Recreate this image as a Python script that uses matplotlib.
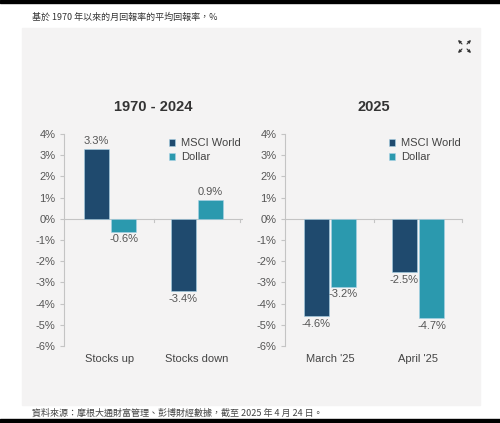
import matplotlib
matplotlib.use('Agg')
from matplotlib import pyplot as plt
from matplotlib.patches import Rectangle, FancyArrowPatch
import numpy as np

plt.rcParams['font.family'] = ['Liberation Sans', 'DejaVu Sans']

# data
panel_titles = ['1970 - 2024', '2025']
categories = [['Stocks up', 'Stocks down'], ["March '25", "April '25"]]
msci_world = [[3.3, -3.4], [-4.6, -2.5]]
dollar = [[-0.6, 0.9], [-3.2, -4.7]]
series_names = ['MSCI World', 'Dollar']
y_ticks = [4, 3, 2, 1, 0, -1, -2, -3, -4, -5, -6]

navy = '#1f4a6e'
teal = '#2b99ae'
panel_bg = '#f4f3f3'
grey_txt = '#555555'
line_col = '#c4c4c4'

fig = plt.figure(figsize=(5, 4.23), dpi=100)
fig.patch.set_facecolor('white')

W, H = 500, 423
def fx(px):
    return px / W
def fy(py):
    return 1 - py / H

# black bars top and bottom + grey panel
fig.add_artist(Rectangle((0, fy(3)), 1, 3 / H, transform=fig.transFigure, color='black', zorder=0))
fig.add_artist(Rectangle((0, 0), 1, 4 / H, transform=fig.transFigure, color='black', zorder=0))
fig.add_artist(Rectangle((fx(22), fy(405)), fx(480 - 22), (405 - 28) / H,
                         transform=fig.transFigure, color=panel_bg, zorder=0))

cjk = ['Noto Sans CJK TC', 'DejaVu Sans']
fig.text(fx(32), fy(17), '基於 1970 年以來的月回報率的平均回報率，%', fontsize=6.5,
         color='#333333', va='center', family=cjk)
fig.text(fx(32), fy(413), '資料來源：摩根大通財富管理、彭博財經數據，截至 2025 年 4 月 24 日。',
         fontsize=6.5, color='#444444', va='center', family=cjk)

# expand icon (four arrows pointing out to the corners)
for (x0, y0, dx, dy) in [(462, 44, -4, -4), (467, 44, 4, -4), (462, 49, -4, 4), (467, 49, 4, 4)]:
    fig.add_artist(FancyArrowPatch(
        (fx(x0), fy(y0)), (fx(x0 + dx), fy(y0 + dy)), transform=fig.transFigure,
        arrowstyle='-|>', mutation_scale=4, color='#333333', lw=0.8,
        shrinkA=0, shrinkB=0))

axes_px = [(64, 243), (285, 462)]
xlims = [(-0.53, 1.53), (-0.51, 1.50)]
w = 0.28
off = 0.155

for k in range(2):
    left, right = axes_px[k]
    ax = fig.add_axes([fx(left), fy(346), fx(right - left), (346 - 134) / H])
    ax.set_facecolor('none')
    x = np.arange(len(categories[k]))
    b1 = ax.bar(x - off, msci_world[k], w, color=navy, edgecolor='#a9d3e6', linewidth=0.4,
                label=series_names[0], zorder=3)
    b2 = ax.bar(x + off, dollar[k], w, color=teal, edgecolor='#a9d3e6', linewidth=0.4,
                label=series_names[1], zorder=3)
    for bars, vals in [(b1, msci_world[k]), (b2, dollar[k])]:
        for bar, v in zip(bars, vals):
            ax.annotate(f'{v:.1f}%', (bar.get_x() + bar.get_width() / 2, v),
                        xytext=(0, 2 if v > 0 else -2), textcoords='offset points',
                        ha='center', va='bottom' if v > 0 else 'top',
                        fontsize=8, color=grey_txt)
    ax.set_ylim(-6, 4)
    ax.set_xlim(*xlims[k])
    ax.set_yticks(y_ticks)
    ax.set_yticklabels([f'{t}%' for t in y_ticks])
    ax.tick_params(axis='y', length=3, color=line_col, labelsize=8, labelcolor=grey_txt, pad=3)
    ax.set_xticks(x)
    ax.set_xticklabels(categories[k])
    ax.tick_params(axis='x', length=0, labelsize=8, labelcolor='#444444', pad=6)
    for s in ['top', 'right', 'bottom']:
        ax.spines[s].set_visible(False)
    ax.spines['left'].set_color(line_col)
    ax.spines['left'].set_linewidth(0.8)
    ax.axhline(0, color=line_col, lw=0.8, zorder=2)
    for t in [0.5, 1.5]:
        ax.plot([t, t], [0, -0.15], color=line_col, lw=0.8, clip_on=False, zorder=2)
    ax.set_title(panel_titles[k], fontsize=10.5, fontweight='bold', color='#333333', y=1.07)
    ax.legend(loc='upper left', bbox_to_anchor=(0.56, 1.0), frameon=False, fontsize=8,
              handlelength=0.6, handleheight=0.6, handletextpad=0.5, labelspacing=0.35,
              labelcolor='#444444', borderaxespad=0)

fig.savefig('out.png', dpi=100, facecolor=fig.get_facecolor())
